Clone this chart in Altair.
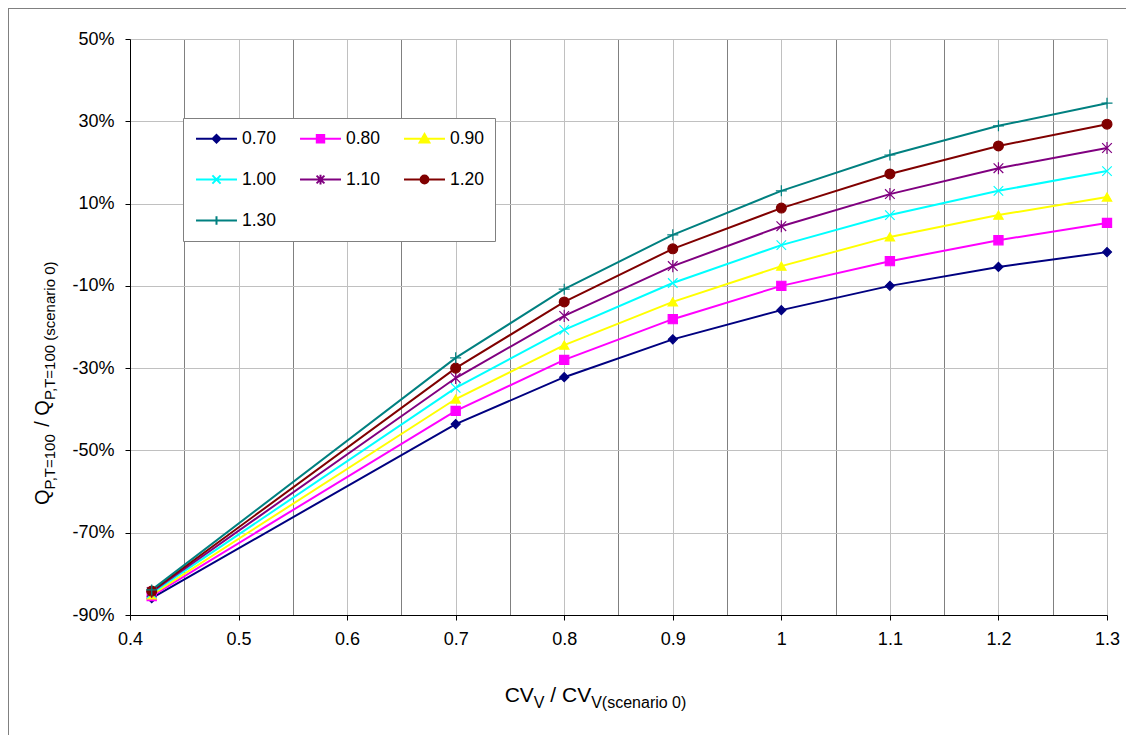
import altair as alt
import pandas as pd

# ---------------- data ----------------
x_vals = [0.42, 0.7, 0.8, 0.9, 1.0, 1.1, 1.2, 1.3]
series_names = ["0.70", "0.80", "0.90", "1.00", "1.10", "1.20", "1.30"]
s070 = [-85.9, -43.6, -32.2, -23.0, -15.9, -10.0, -5.4, -1.8]
s080 = [-85.4, -40.4, -28.0, -18.1, -10.0, -4.0, 1.1, 5.3]
s090 = [-85.1, -37.5, -24.4, -13.9, -5.2, 1.9, 7.2, 11.6]
s100 = [-84.7, -34.8, -20.7, -9.3, -0.1, 7.2, 13.1, 17.9]
s110 = [-84.4, -32.4, -17.3, -5.2, 4.5, 12.3, 18.6, 23.5]
s120 = [-84.2, -30.0, -13.9, -1.0, 8.9, 17.2, 24.0, 29.3]
s130 = [-83.9, -27.5, -10.8, 2.4, 13.1, 21.8, 28.9, 34.4]
series_values = [s070, s080, s090, s100, s110, s120, s130]

colors = ["#000080", "#FF00FF", "#FFFF00", "#00FFFF", "#800080", "#800000", "#008080"]

x_ticks = [0.4, 0.5, 0.6, 0.7, 0.8, 0.9, 1.0, 1.1, 1.2, 1.3]
x_minor = [0.45, 0.55, 0.65, 0.75, 0.85, 0.95, 1.05, 1.15, 1.25]
y_ticks = [-90, -70, -50, -30, -10, 10, 30, 50]

x_title_parts = [("CV", 0), ("V", 1), (" ", 0), ("/", 0), (" ", 0), ("CV", 0), ("V(scenario 0)", 1)]
y_title_parts = [("Q", 0), ("P,T=100", 1), (" ", 0), ("/", 0), (" ", 0), ("Q", 0), ("P,T=100 (scenario 0)", 1)]

rows = []
for name, vals in zip(series_names, series_values):
    for xv, yv in zip(x_vals, vals):
        rows.append({"cv": xv, "q": yv, "series": name})
df = pd.DataFrame(rows)

# ---------------- styling ----------------
FONT = "Liberation Sans"
W, H = 977, 576

plot_shapes = [
    "diamond",
    "square",
    "triangle-up",
    "M-1,-1L1,1M1,-1L-1,1",
    "M-1,-1L1,1M1,-1L-1,1M0,-1.25L0,1.25",
    "circle",
    "M-1.1,0L1.1,0M0,-1.1L0,1.1",
]
plot_sizes = [81, 100, 130, 100, 100, 110, 100]

# legend symbols: line segment + marker (invisible moveTo points set the entry box)
LINE = "M0,-0.82M0,0.82M3.4,0M-1.05,0H1.05"
legend_shapes = [
    LINE + "M0,-0.2L0.2,0L0,0.2L-0.2,0Z",
    LINE + "M-0.19,-0.19H0.19V0.19H-0.19Z",
    LINE + "M0,-0.24L0.25,0.19H-0.25Z",
    LINE + "M-0.21,-0.21L0.21,0.21M0.21,-0.21L-0.21,0.21",
    LINE + "M-0.2,-0.2L0.2,0.2M0.2,-0.2L-0.2,0.2M0,-0.25V0.25",
    LINE + "M0.2,0A0.2,0.2 0 1,1 -0.2,0A0.2,0.2 0 1,1 0.2,0Z",
    LINE + "M0,-0.22V0.22",
]

AW = {'Q': .778, 'P': .667, ',': .278, 'T': .611, '=': .584, '1': .556, '0': .556, ' ': .278,
      '/': .278, '(': .333, ')': .333, 's': .5, 'c': .5, 'e': .556, 'n': .556, 'a': .556,
      'r': .333, 'i': .222, 'o': .556, 'C': .722, 'V': .667}


def tw(s, fs):
    return sum(AW.get(ch, 0.556) for ch in s) * fs


def layout(parts, main, sub):
    pos = 0.0
    out = []
    for text, is_sub in parts:
        fs = sub if is_sub else main
        if text.strip():
            out.append((text, fs, pos, is_sub))
        pos += tw(text, fs)
    return out, pos


x_scale = alt.Scale(domain=[0.4, 1.3], nice=False, zero=False)
y_scale = alt.Scale(domain=[-90, 50], nice=False, zero=False)
color_scale = alt.Scale(domain=series_names, range=colors)

base = alt.Chart(df)

grid_layer = base.mark_line(opacity=0).encode(
    x=alt.X("cv:Q", scale=x_scale,
            axis=alt.Axis(orient="top", values=x_minor, grid=True, gridColor="#808080",
                          gridWidth=1, labels=False, ticks=False, domain=False, title=None)),
    y=alt.Y("q:Q", scale=y_scale, axis=None),
    detail="series:N",
)

line_layer = base.mark_line(strokeWidth=2).encode(
    x=alt.X("cv:Q", scale=x_scale,
            axis=alt.Axis(orient="bottom", values=x_ticks, format=".1~f", grid=True,
                          gridColor="#c0c0c0", gridWidth=1, labelFont=FONT, labelFontSize=18,
                          labelColor="black", tickColor="black", tickSize=5, tickWidth=1,
                          domainColor="black", domainWidth=1, labelPadding=10, title=None,
                          labelFlush=False, labelOverlap=False)),
    y=alt.Y("q:Q", scale=y_scale,
            axis=alt.Axis(values=y_ticks, labelExpr="datum.value + '%'", grid=True,
                          gridColor="#c0c0c0", gridWidth=1, labelFont=FONT, labelFontSize=18,
                          labelColor="black", tickColor="black", tickSize=5, tickWidth=1,
                          domainColor="black", domainWidth=1, labelPadding=11, title=None,
                          labelFlush=False, labelOverlap=False)),
    color=alt.Color("series:N", scale=color_scale, legend=None),
)

pt_layer = base.mark_point(filled=True, opacity=1, strokeWidth=1.2).encode(
    x=alt.X("cv:Q", scale=x_scale, axis=None),
    y=alt.Y("q:Q", scale=y_scale, axis=None),
    fill=alt.Fill("series:N", scale=color_scale, legend=None),
    stroke=alt.Stroke("series:N", scale=color_scale, legend=None),
    shape=alt.Shape("series:N", scale=alt.Scale(domain=series_names, range=plot_shapes), legend=None),
    size=alt.Size("series:O", scale=alt.Scale(domain=series_names, range=plot_sizes), legend=None),
)

legend_def = alt.Legend(
    title=None, orient="none", legendX=53, legendY=79, columns=3, direction="horizontal",
    padding=0, fillColor="white", strokeColor="#808080", symbolSize=1521, symbolStrokeWidth=2,
    symbolOffset=13, labelOffset=5, labelFont=FONT, labelFontSize=17.5, labelColor="black",
    rowPadding=-6, columnPadding=0, symbolOpacity=1,
)

leg_layer = base.transform_filter("false").mark_point(filled=True, opacity=1).encode(
    fill=alt.Fill("series:N", scale=alt.Scale(domain=series_names, range=colors), legend=legend_def),
    stroke=alt.Stroke("series:N", scale=alt.Scale(domain=series_names, range=colors), legend=legend_def),
    shape=alt.Shape("series:N", scale=alt.Scale(domain=series_names, range=legend_shapes), legend=legend_def),
)

# titles built from pieces (subscripts)
text_layers = []
XM, XS = 21, 16
xparts, xlen = layout(x_title_parts, XM, XS)
x_start = 595.5 - 130 - xlen / 2
x_base = 702 - 39
for text, fs, pos, is_sub in xparts:
    text_layers.append(
        alt.Chart(pd.DataFrame({"t": [text]})).mark_text(
            align="left", baseline="alphabetic", font=FONT, fontSize=fs, color="black"
        ).encode(text="t:N", x=alt.value(x_start + pos), y=alt.value(x_base + (6 if is_sub else 0)))
    )

YM, YS = 20, 15
yparts, ylen = layout(y_title_parts, YM, YS)
y_start = 505 - 39
y_base = 49 - 130
for text, fs, pos, is_sub in yparts:
    text_layers.append(
        alt.Chart(pd.DataFrame({"t": [text]})).mark_text(
            align="left", baseline="alphabetic", font=FONT, fontSize=fs, color="black", angle=270
        ).encode(text="t:N", x=alt.value(y_base + (6 if is_sub else 0)), y=alt.value(y_start - pos))
    )

one = pd.DataFrame({"k": [0]})
border_top = alt.Chart(one).mark_rule(color="#808080", strokeWidth=1).encode(
    x=alt.value(-122), x2=alt.value(W + 19), y=alt.value(-30.5))
border_left = alt.Chart(one).mark_rule(color="#808080", strokeWidth=1).encode(
    x=alt.value(-121.5), y=alt.value(-31), y2=alt.value(H + 120))

chart = alt.layer(
    grid_layer, line_layer, pt_layer, leg_layer, border_top, border_left, *text_layers
).resolve_scale(
    fill="independent", stroke="independent", shape="independent"
).resolve_axis(
    x="independent", y="independent"
).properties(
    width=W, height=H,
    padding={"left": 122, "top": 31, "right": 19, "bottom": 120},
    autosize=alt.AutoSizeParams(type="none"),
    background="white",
).configure_view(stroke=None)

chart.save("out.html", embed_options={"renderer": "svg", "actions": False})
